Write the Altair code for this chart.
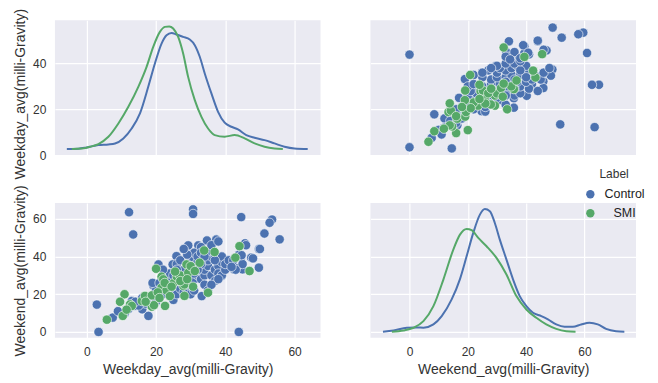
import altair as alt
import pandas as pd

# ---------------- scatter data (weekday avg, weekend avg) ----------------
ctrl_weekday = [12.2, 13.4, 30.7, 30.7, 44.6, 53.5, 52.8, 51.3, 55.7, 2.9, 3.4, 43.9, 49.7, 47.5, 45.7,
                44.5, 45.0, 42.5, 42.2, 38.9, 38.9, 37.4, 34.7, 32.2, 29.3, 25.9, 24.8, 20.7, 19.2, 17.8,
                17.8, 7.5, 10.6, 13.0, 13.9, 33.2, 30.2, 28.3, 49.7,
                16, 17, 18, 19, 20, 19, 21, 22, 23, 21, 23, 24, 22, 24, 25, 20, 15, 14, 12, 11, 9, 16,
                26, 27, 26, 27, 28, 26, 27, 29, 29, 30, 30, 31, 29, 28, 30, 31, 32, 31, 32, 32, 33, 26,
                25, 28, 30, 31, 29, 33, 31,
                33, 34, 34, 35, 35, 36, 36, 37, 37, 38, 38, 39, 39, 40, 34, 35, 36, 38, 37, 35, 36, 38,
                34, 33, 32, 39, 40, 37,
                41, 43, 44, 46, 45, 48, 50, 43, 42.3, 44.7, 41.8]
ctrl_weekend = [63.5, 51.7, 65.0, 62.6, 60.9, 59.6, 57.9, 52.2, 49.1, 14.5, 0.0, 0.0, 34.1, 39.4, 47.0,
                39.4, 33.2, 33.2, 37.6, 37.6, 29.6, 49.0, 48.5, 45.9, 45.9, 40.2, 35.8, 35.8, 24.7, 14.6,
                8.5, 7.6, 10.2, 16.4, 13.8, 19.0, 21.7, 22.6, 44.0,
                12, 15, 17, 19, 22, 26, 18, 20, 24, 26, 28, 31, 33, 22, 17, 16, 14, 16, 12, 10, 11, 18,
                20, 23, 27, 30, 33, 36, 38, 27, 30, 33, 38, 42, 41, 44, 25, 28, 30, 35, 37, 40, 45, 33,
                30, 21, 20, 22, 36, 42, 31,
                28, 30, 33, 35, 38, 40, 30, 27, 33, 35, 31, 37, 30, 33, 25, 22, 25, 28, 41, 43, 46, 48,
                40, 36, 33, 40, 36, 38,
                38, 34, 41, 46, 36, 39, 44, 33, 38.0, 40.7, 34.5]
smi_weekday = [5.8, 10.4, 10.9, 9.6, 12.5, 13.0, 11.5, 15.9, 16.8, 18.8, 18.8, 19.4, 20.0, 21.6, 22.1,
               21.6, 22.6, 25.0, 26.0, 26.9, 27.9, 28.2, 28.2, 28.8, 29.3, 30.0, 30.7, 31.2, 32.6, 33.9,
               35.0, 36.9, 42.9, 44.1, 47.0, 23.0, 24.0, 20.5, 25.5, 27.0, 29.0, 22.5, 24.5, 17.0, 21.0]
smi_weekend = [6.5, 8.5, 20.0, 16.0, 14.6, 13.8, 11.8, 16.4, 19.1, 19.4, 13.4, 14.2, 33.5, 29.3, 27.9,
               23.5, 13.8, 25.8, 29.3, 30.0, 24.4, 19.1, 25.2, 35.8, 31.4, 34.9, 24.0, 32.3, 36.7, 43.2,
               20.8, 42.4, 39.4, 45.5, 32.3, 22.0, 19.0, 21.0, 32.0, 27.0, 28.0, 26.0, 24.0, 16.0, 18.0]

# ---------------- KDE curves ----------------
kde_wd_ctrl_x = [-5.76, -2.4, 0.0, 3.36, 6.24, 8.16, 10.56, 12.96, 15.36, 17.75, 19.67, 21.59, 23.03,
                 24.47, 25.91, 27.83, 29.75, 31.19, 32.63, 34.07, 35.99, 37.91, 39.83, 41.75, 43.67,
                 46.07, 48.47, 51.34, 54.22, 57.1, 59.98, 63.8]
kde_wd_ctrl_d = [0.0, 0.002, 0.0125, 0.0315, 0.037, 0.045, 0.086, 0.167, 0.29, 0.507, 0.697, 0.86, 0.928,
                 0.947, 0.934, 0.914, 0.893, 0.847, 0.752, 0.616, 0.453, 0.303, 0.214, 0.181, 0.159,
                 0.113, 0.091, 0.072, 0.045, 0.018, 0.004, 0.0]
kde_wd_smi_x = [-4.32, -1.44, 0.96, 3.36, 6.24, 9.12, 12.0, 14.88, 17.27, 19.19, 21.11, 22.55, 23.8,
                24.95, 26.39, 27.83, 29.27, 31.19, 33.11, 35.03, 36.95, 39.83, 42.71, 45.59, 48.46,
                51.34, 54.22, 56.62]
kde_wd_smi_d = [0.0, 0.004, 0.018, 0.04, 0.099, 0.208, 0.344, 0.507, 0.67, 0.833, 0.955, 0.996, 1.0,
                0.983, 0.914, 0.779, 0.588, 0.398, 0.262, 0.167, 0.113, 0.1, 0.113, 0.086, 0.045,
                0.018, 0.004, 0.0]
kde_we_ctrl_x = [-9.1, -5.47, -0.91, 2.5, 4.78, 8.2, 11.05, 14.46, 17.31, 19.59, 21.87, 24.15, 25.85,
                 27.56, 29.27, 30.98, 33.26, 35.54, 37.81, 40.09, 42.37, 45.22, 47.49, 50.34, 53.19,
                 56.04, 58.88, 61.73, 64.58, 67.43, 70.84, 73.7]
kde_we_ctrl_d = [0.0, 0.01, 0.032, 0.034, 0.032, 0.059, 0.127, 0.263, 0.429, 0.615, 0.806, 0.955, 1.0,
                 0.983, 0.887, 0.751, 0.588, 0.425, 0.29, 0.208, 0.154, 0.127, 0.1, 0.059, 0.04,
                 0.04, 0.059, 0.072, 0.059, 0.023, 0.004, 0.0]
kde_we_smi_x = [-6.04, -2.05, 1.37, 4.78, 8.2, 11.62, 15.03, 17.31, 19.59, 21.3, 23.58, 26.42, 29.84,
                33.26, 36.67, 40.09, 43.51, 46.92, 50.34, 53.76, 56.95]
kde_we_smi_d = [0.0, 0.01, 0.032, 0.086, 0.208, 0.425, 0.67, 0.792, 0.838, 0.828, 0.765, 0.697, 0.602,
                0.466, 0.29, 0.181, 0.113, 0.059, 0.023, 0.004, 0.0]

labels = ["Control", "SMI"]
colors = ["#4C72B0", "#55A868"]
ticks = [0, 20, 40, 60]
x_title = "Weekday_avg(milli-Gravity)"
y_title = "Weekend_avg(milli-Gravity)"

pts = pd.DataFrame({
    "Weekday": ctrl_weekday + smi_weekday,
    "Weekend": ctrl_weekend + smi_weekend,
    "Label": ["Control"] * len(ctrl_weekday) + ["SMI"] * len(smi_weekday),
})
kde_wd = pd.DataFrame({
    "Weekday": kde_wd_ctrl_x + kde_wd_smi_x,
    "density": kde_wd_ctrl_d + kde_wd_smi_d,
    "Label": ["Control"] * len(kde_wd_ctrl_x) + ["SMI"] * len(kde_wd_smi_x),
})
kde_we = pd.DataFrame({
    "Weekend": kde_we_ctrl_x + kde_we_smi_x,
    "density": kde_we_ctrl_d + kde_we_smi_d,
    "Label": ["Control"] * len(kde_we_ctrl_x) + ["SMI"] * len(kde_we_smi_x),
})

W, H = 266, 135
FONT = "Liberation Sans"

sx_wd = alt.Scale(domain=[-9.2, 67.5], nice=False, zero=False)
sx_we = alt.Scale(domain=[-13.4, 77.7], nice=False, zero=False)
sy_wd = alt.Scale(domain=[0, 58.9], nice=False, zero=False)
sy_we = alt.Scale(domain=[-3.1, 68.4], nice=False, zero=False)
s_den = alt.Scale(domain=[-0.05, 1.05], nice=False, zero=False)

# legend lives in the bottom-right cell so it is drawn above that panel
legend = alt.Legend(
    title="Label", orient="none", legendX=214, legendY=-34,
    symbolType="circle", symbolSize=70, symbolOpacity=1, symbolStrokeWidth=0,
    labelAlign="center", labelOffset=28,
    labelFontSize=12.5, titleFontSize=12, titleFontWeight="normal", titleAnchor="middle",
    titlePadding=7, rowPadding=6,
    labelFont=FONT, titleFont=FONT, labelColor="#222222", titleColor="#333333",
)
color_scale = alt.Scale(domain=labels, range=colors)
color_legend = alt.Color("Label:N", scale=color_scale, legend=legend)
color_nolegend = alt.Color("Label:N", scale=color_scale, legend=None)
stroke_line = alt.Stroke("Label:N", scale=color_scale, legend=None)

no_lab = dict(labels=False, title=None, values=ticks)
PT = dict(size=88, opacity=1, stroke="white", strokeWidth=0.6)

# top-left: weekday KDE
tl_axes = alt.Chart(pts).mark_point(opacity=0).encode(
    x=alt.X("Weekday:Q", scale=sx_wd, axis=alt.Axis(**no_lab)),
    y=alt.Y("Weekday:Q", scale=sy_wd,
            axis=alt.Axis(values=[0, 20, 40], title=x_title, titleY=73.5)),
)
tl_kde = alt.Chart(kde_wd).mark_line(strokeWidth=2, interpolate="monotone").encode(
    x=alt.X("Weekday:Q", scale=sx_wd, axis=alt.Axis(**no_lab)),
    y=alt.Y("density:Q", scale=s_den, axis=None),
    stroke=stroke_line,
)
tl = alt.layer(tl_axes, tl_kde).resolve_scale(y="independent").properties(width=W, height=H)

# top-right: weekend (x) vs weekday (y)
tr = alt.Chart(pts).mark_circle(**PT).encode(
    x=alt.X("Weekend:Q", scale=sx_we, axis=alt.Axis(**no_lab)),
    y=alt.Y("Weekday:Q", scale=sy_wd, axis=alt.Axis(labels=False, title=None, values=[0, 20, 40])),
    color=color_nolegend,
).properties(width=W, height=H)

# bottom-left: weekday (x) vs weekend (y)
bl = alt.Chart(pts).mark_circle(**PT).encode(
    x=alt.X("Weekday:Q", scale=sx_wd, axis=alt.Axis(values=ticks, title=x_title)),
    y=alt.Y("Weekend:Q", scale=sy_we, axis=alt.Axis(values=ticks, title=y_title)),
    color=color_nolegend,
).properties(width=W, height=H)

# bottom-right: weekend KDE (+ invisible points carrying the legend)
br_axes = alt.Chart(pts).mark_circle(opacity=0).encode(
    x=alt.X("Weekend:Q", scale=sx_we, axis=alt.Axis(values=ticks, title=y_title)),
    y=alt.Y("Weekend:Q", scale=sy_we, axis=alt.Axis(labels=False, title=None, values=ticks)),
    color=color_legend,
)
br_kde = alt.Chart(kde_we).mark_line(strokeWidth=2, interpolate="monotone").encode(
    x=alt.X("Weekend:Q", scale=sx_we, axis=alt.Axis(values=ticks, title=y_title)),
    y=alt.Y("density:Q", scale=s_den, axis=None),
    stroke=stroke_line,
)
br = alt.layer(br_axes, br_kde).resolve_scale(y="independent").properties(width=W, height=H)

chart = alt.concat(tl, tr, bl, br, columns=2, spacing={"row": 48, "column": 50},
                   bounds="flush").resolve_legend(color="independent").properties(
    padding={"left": 5, "top": 0, "right": 5, "bottom": 2},
    background="white",
).configure_view(
    fill="#EAEAF2", stroke=None,
).configure_axis(
    grid=True, gridColor="white", gridWidth=1.2, domain=False, ticks=False,
    labelFont=FONT, titleFont=FONT, labelFontSize=12, titleFontSize=14,
    titleFontWeight="normal", labelColor="#333333", titleColor="#333333",
    labelPadding=9, titlePadding=5,
)

chart.save("out.html", embed_options={"renderer": "svg", "actions": False})
